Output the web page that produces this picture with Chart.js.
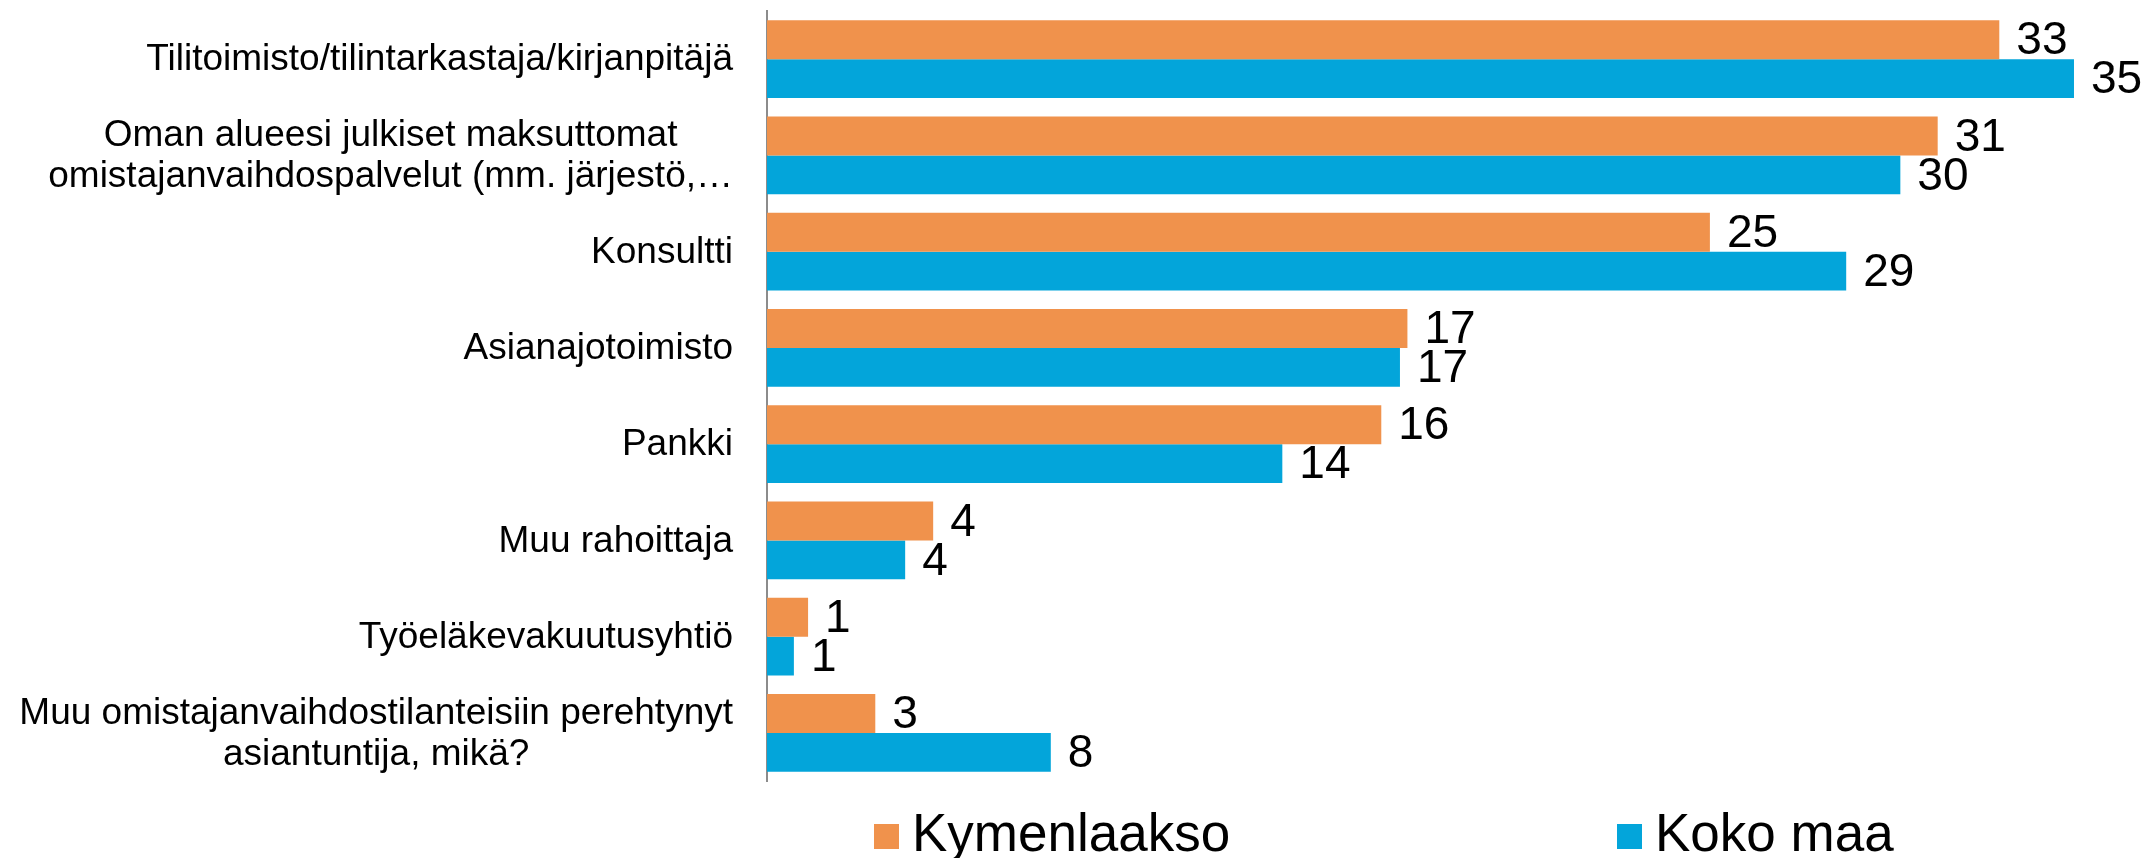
<!DOCTYPE html>
<html>
<head>
<meta charset="utf-8">
<script src="https://cdn.jsdelivr.net/npm/chart.js@4/dist/chart.umd.min.js"></script>
<style>
  html, body { margin: 0; padding: 0; background: #fff; }
  canvas { display: block; }
</style>
</head>
<body>
<canvas id="chart" width="2149" height="858"></canvas>
<script>
// Categories (multi-line labels kept as arrays of lines)
const categories = [
  ['Tilitoimisto/tilintarkastaja/kirjanpitäjä'],
  ['Oman alueesi julkiset maksuttomat', 'omistajanvaihdospalvelut (mm. järjestö,…'],
  ['Konsultti'],
  ['Asianajotoimisto'],
  ['Pankki'],
  ['Muu rahoittaja'],
  ['Työeläkevakuutusyhtiö'],
  ['Muu omistajanvaihdostilanteisiin perehtynyt', 'asiantuntija, mikä?']
];

const seriesNames = ['Kymenlaakso', 'Koko maa'];
const kymenlaakso = [33.0, 31.35, 25.25, 17.15, 16.45, 4.45, 1.1, 2.9];
const kokoMaa = [35.0, 30.35, 28.9, 16.95, 13.8, 3.7, 0.72, 7.6];

const ORANGE = '#F0924C';
const BLUE = '#03A5DA';
const FONT = '"Liberation Sans", Arial, Helvetica, sans-serif';

// value labels at the end of each bar
const valueLabels = {
  id: 'valueLabels',
  afterDatasetsDraw(chart) {
    const ctx = chart.ctx;
    ctx.save();
    ctx.font = '46px ' + FONT;
    ctx.fillStyle = '#000';
    ctx.textAlign = 'left';
    ctx.textBaseline = 'middle';
    chart.data.datasets.forEach((ds, di) => {
      chart.getDatasetMeta(di).data.forEach((bar, i) => {
        ctx.fillText(String(Math.round(ds.data[i])), bar.x + 17, bar.y + 2);
      });
    });
    ctx.restore();
  }
};

// category labels: each block centred on itself, block right-aligned near the axis
const categoryLabels = {
  id: 'categoryLabels',
  afterDraw(chart) {
    const ctx = chart.ctx;
    const yScale = chart.scales.y;
    const lineH = 41;
    ctx.save();
    ctx.font = '37px ' + FONT;
    ctx.fillStyle = '#000';
    ctx.textAlign = 'center';
    ctx.textBaseline = 'middle';
    const right = chart.chartArea.left - 34;
    categories.forEach((lines, i) => {
      const y = yScale.getPixelForTick(i);
      const w = Math.max(...lines.map(l => ctx.measureText(l).width));
      const cx = right - w / 2;
      const y0 = y - (lines.length - 1) * lineH / 2;
      lines.forEach((l, k) => ctx.fillText(l, cx, y0 + k * lineH + 1));
    });
    ctx.restore();
  }
};

// legend at the bottom
const bottomLegend = {
  id: 'bottomLegend',
  afterDraw(chart) {
    const ctx = chart.ctx;
    const xs = [874, 1617];
    const y = 836;
    ctx.save();
    ctx.font = '53px ' + FONT;
    ctx.textBaseline = 'middle';
    ctx.textAlign = 'left';
    chart.data.datasets.forEach((ds, i) => {
      ctx.fillStyle = ds.backgroundColor;
      ctx.fillRect(xs[i], y - 12, 25, 25);
      ctx.fillStyle = '#000';
      ctx.fillText(ds.label, xs[i] + 38, y);
    });
    ctx.restore();
  }
};

new Chart(document.getElementById('chart'), {
  type: 'bar',
  data: {
    labels: categories.map(l => l.join(' ')),
    datasets: [
      { label: seriesNames[0], data: kymenlaakso, backgroundColor: ORANGE },
      { label: seriesNames[1], data: kokoMaa, backgroundColor: BLUE }
    ]
  },
  options: {
    indexAxis: 'y',
    responsive: false,
    devicePixelRatio: 1,
    animation: false,
    categoryPercentage: 0.81,
    barPercentage: 1.0,
    layout: { padding: { top: 11, bottom: 77, right: 19, left: 0 } },
    plugins: {
      legend: { display: false },
      tooltip: { enabled: false }
    },
    scales: {
      x: {
        display: false,
        min: 0,
        max: 36.5
      },
      y: {
        grid: { display: false, drawTicks: false },
        border: { display: true, color: '#8c8c8c', width: 2 },
        ticks: { display: false },
        afterFit(scale) { scale.width = 767; }
      }
    }
  },
  plugins: [valueLabels, categoryLabels, bottomLegend]
});
</script>
</body>
</html>
